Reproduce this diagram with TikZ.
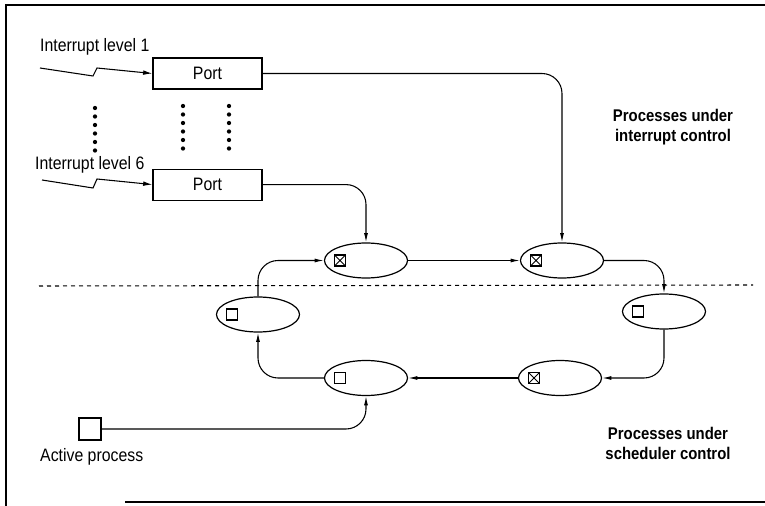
\documentclass[tikz,border=0pt]{standalone}
\usepackage{fontspec}
\setmainfont{Liberation Sans}[FakeStretch=0.88]
\usepackage{tikz}
\usetikzlibrary{positioning}
\usetikzlibrary{shapes.geometric}
\usetikzlibrary{arrows.meta}

\begin{document}
\begin{tikzpicture}[x=0.75pt, y=-0.75pt,
				port/.style={draw, rectangle, line width=0.8pt, minimum width=81.75pt, minimum height=23.25pt, inner sep=0pt, font=\fontsize{13.5}{15}\selectfont},
				proc/.style={draw, ellipse, line width=0.9pt, minimum width=62.25pt, minimum height=26.25pt, inner sep=0pt},
				idle/.style={draw, rectangle, line width=0.8pt, minimum size=8.25pt, inner sep=0pt},
				busy/.style={idle, path picture={\draw[line width=0.6pt] (path picture bounding box.north west) -- (path picture bounding box.south east) (path picture bounding box.north east) -- (path picture bounding box.south west);}},
				conn/.style={draw, line width=0.8pt, rounded corners=15, -{Latex[length=7pt,width=3pt]}},
				caption/.style={font=\fontsize{13.5}{15}\selectfont},
				heading/.style={align=center, font=\bfseries\fontsize{12.7}{15}\selectfont},
				every text node part/.style={align=center}]
				\useasboundingbox (0,0) rectangle (765,506);
				% frame
				\draw[line width=1.5pt] (765,5) -- (6,5) -- (6,506);
				\draw[line width=1.5pt] (125,502) -- (765,502);
				
				\node[port](port1) at (207.5, 73.5) {Port};
				\node[port, below=59.25pt of port1](port6) {Port};
				\node[caption, anchor=west](irqtext1) at (35.5, 47) {Interrupt level 1};
				\node[caption, anchor=west](irqtext6) at (30.5, 165) {Interrupt level 6};
				\coordinate (irq1) at (40, 68);
				\coordinate (irq6) at (42, 180);
				\draw[line width=0.8pt, -{Latex[length=7pt,width=3.5pt]}] (irq1) -- ++(53,8) -- ++(4,-8) -- (port1.west);
				\draw[line width=0.8pt, -{Latex[length=7pt,width=3.5pt]}] (irq6) -- ++(51,8) -- ++(4,-9) -- (port6.west);
				
				\foreach \x/\y in {95/108, 183/106, 229/106}
					\foreach \i in {0,...,5}
						\fill (\x, \y+\i*8.5) circle (1.6pt);
				
				\draw[dashed, line width=0.8pt, dash pattern=on 3pt off 3pt] (39,286) -- (753,285);
				
				\node[proc](procA) at (366, 260.5) {};
				\node[proc](procB) at (562, 260.5) {};
				\node[proc](procC) at (664, 311.5) {};
				\node[proc](procD) at (560, 378) {};
				\node[proc](procE) at (366, 378) {};
				\node[proc](procF) at (258, 314.5) {};
				\node[busy](markA) at ([xshift=-19.5pt]procA.center) {};
				\node[busy](markB) at ([xshift=-19.5pt]procB.center) {};
				\node[idle](markC) at ([xshift=-19.5pt]procC.center) {};
				\node[busy](markD) at ([xshift=-19.5pt]procD.center) {};
				\node[idle](markE) at ([xshift=-19.5pt]procE.center) {};
				\node[idle](markF) at ([xshift=-19.5pt]procF.center) {};
				
				\node[draw, line width=0.8pt, minimum size=16.5pt, inner sep=0pt](active) at (90, 429) {};
				\node[caption, anchor=west](activetext) at (35.5, 457) {Active process};
				
				\node[heading](irqhead) at (673, 127) {Processes under\\interrupt control};
				\node[heading](schedhead) at (668, 443) {Processes under\\scheduler control};
				
				\draw[conn] (port1.east) -| (procB.north);
				\draw[conn] (port6.east) -| (procA.north);
				\draw[conn] (procA.east) -- (procB.west);
				\draw[conn] (procB.east) -| (procC.north);
				\draw[conn] (procC.south) |- (procD.east);
				\draw[conn] (procD.west) -- (procE.east);
				\draw[conn] (procE.west) -| (procF.south);
				\draw[conn] (procF.north) |- (procA.west);
				\draw[conn] (active.east) -| (procE.south);
			\end{tikzpicture}
\end{document}
